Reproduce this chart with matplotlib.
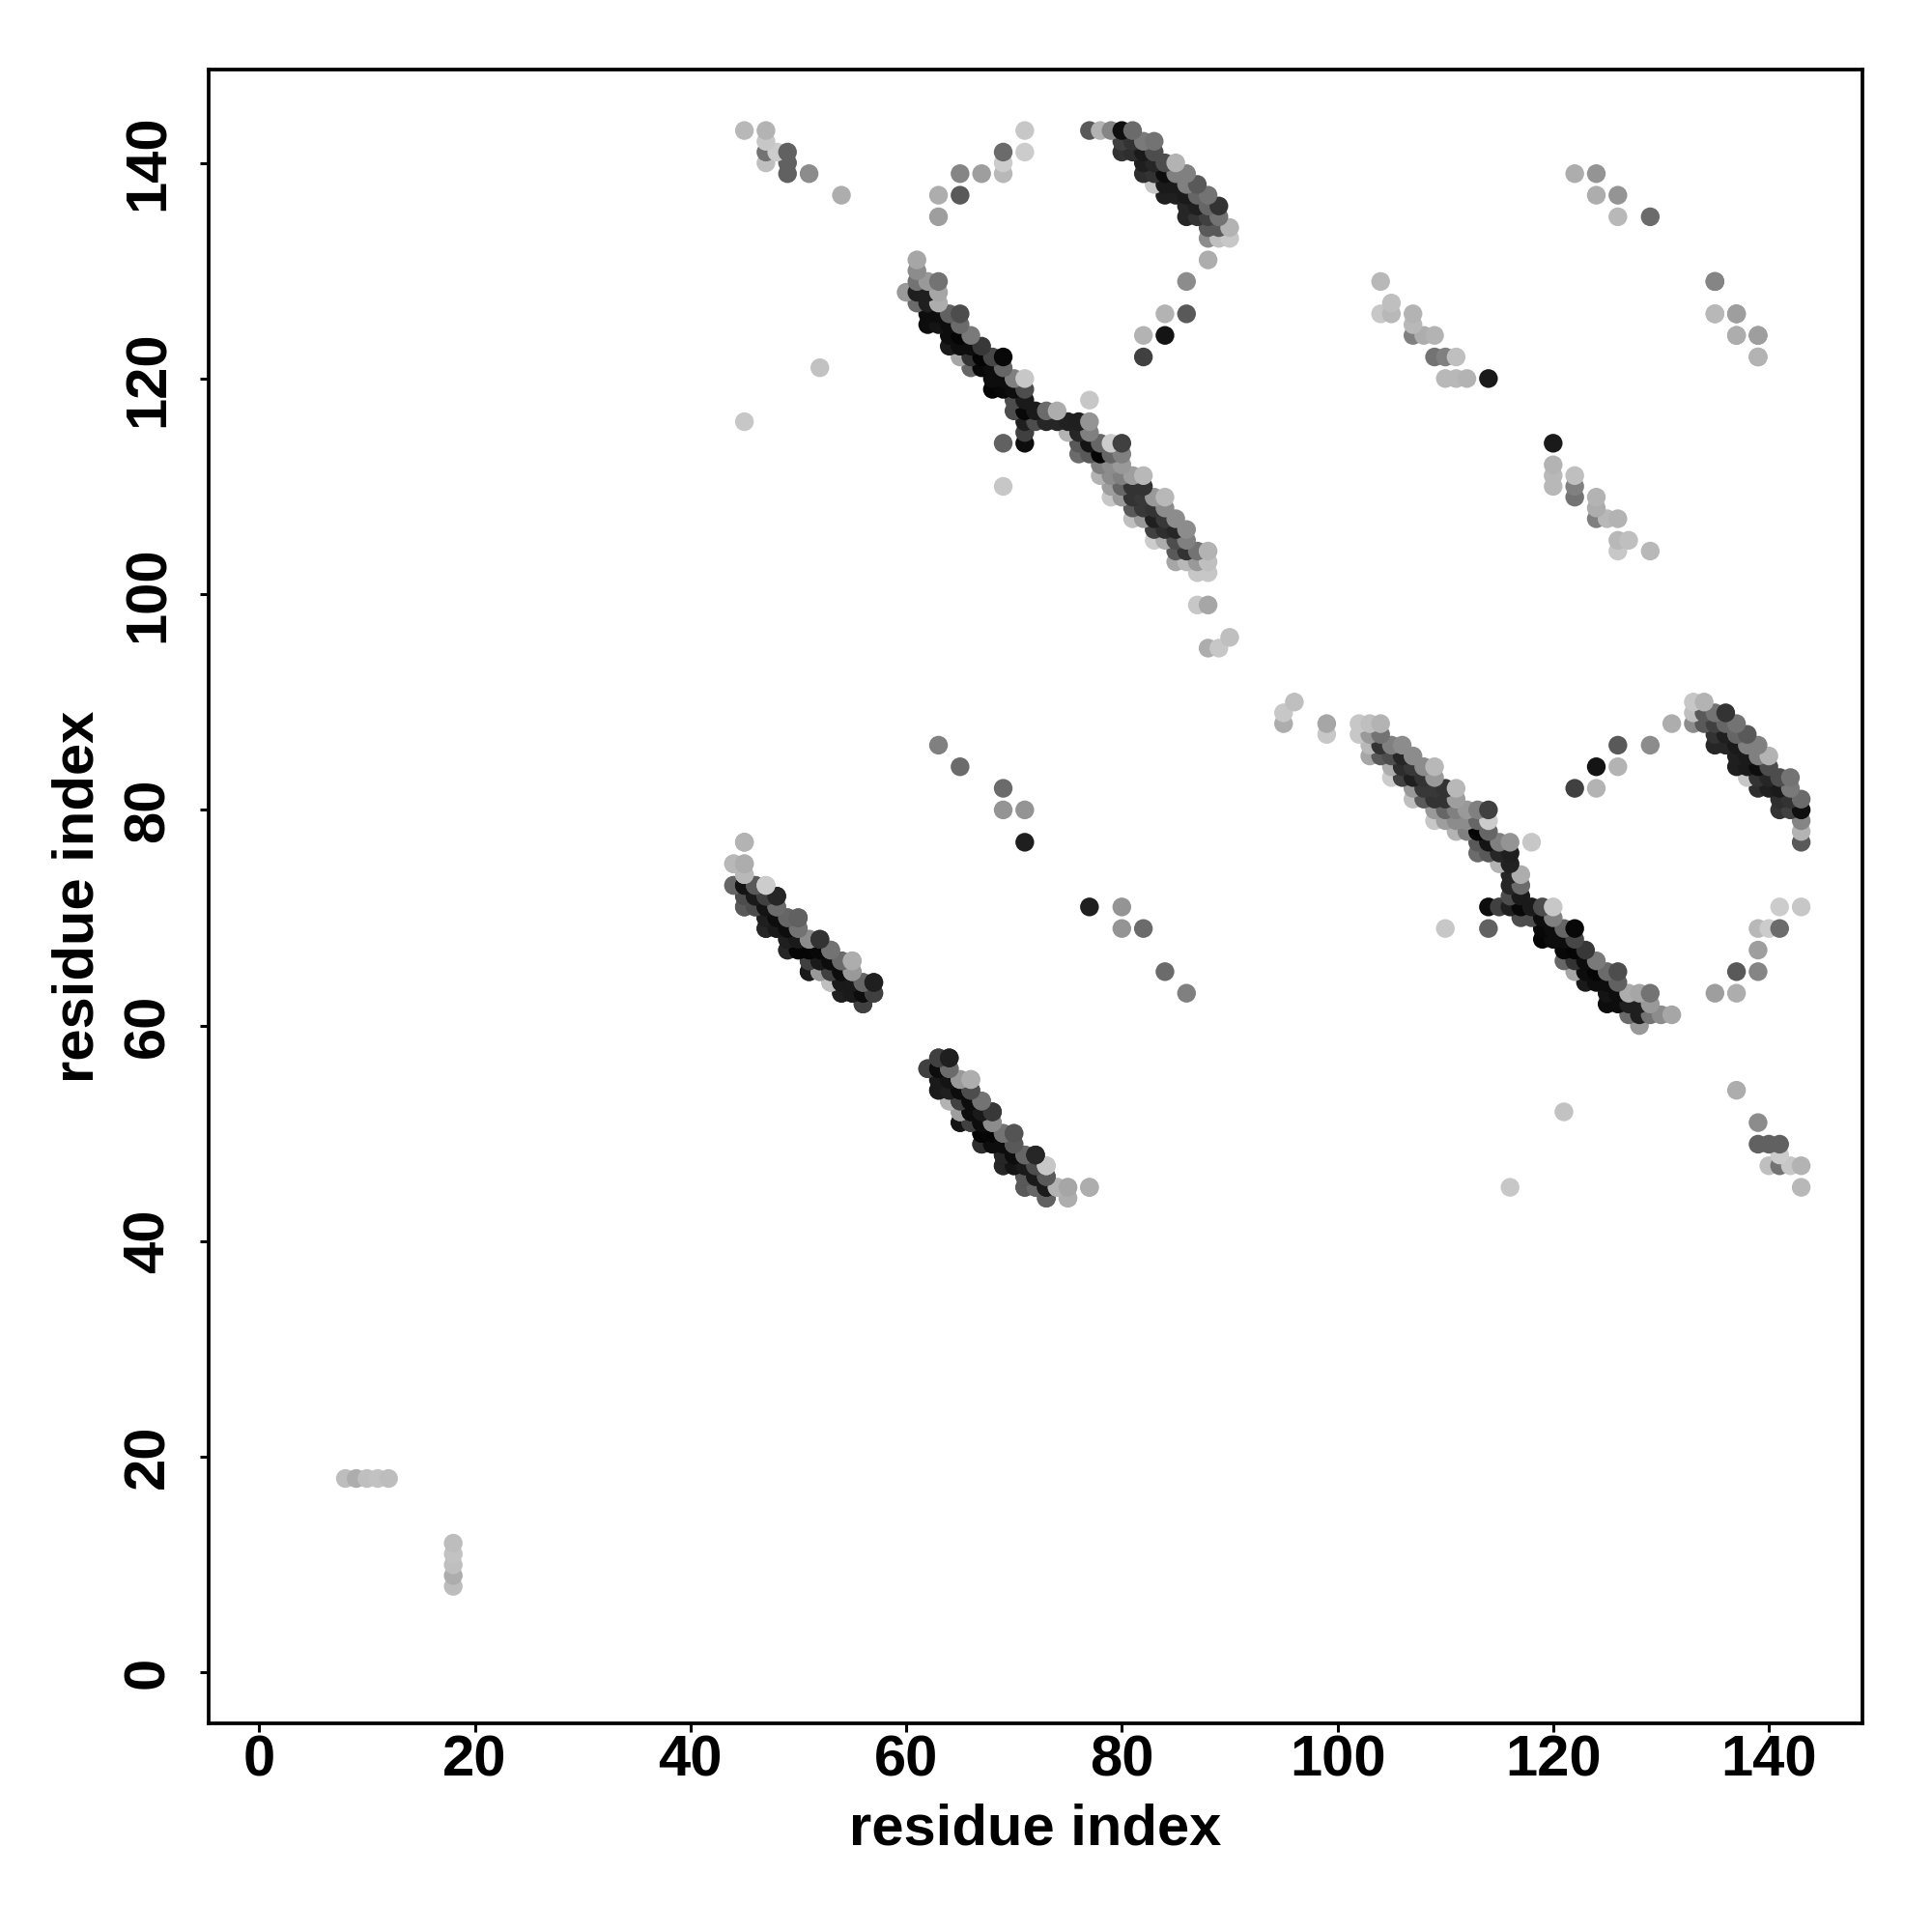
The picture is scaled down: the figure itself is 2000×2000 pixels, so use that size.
import matplotlib
matplotlib.use("Agg")
import numpy as np
import matplotlib.pyplot as plt

plt.rcParams['font.family'] = ['Liberation Sans', 'DejaVu Sans']

# contacts as (residue i, residue j, grey level), i < j, the map is symmetric
short_range = [(8,18,.74),(9,18,.68),(10,18,.75),(11,18,.76),(12,18,.74)]

stray = [(45,116,.78),(52,121,.76),(69,110,.78),(77,118,.78),(69,114,.38),(71,114,.05)]

far_corner = [(45,143,.72),(47,143,.70),(47,142,.78),(47,141,.45),(48,141,.80),(47,140,.75),
              (49,141,.38),(49,140,.38),(49,139,.38),(51,139,.55),(54,137,.68)]

arc_top = [(71,143,.78),(71,141,.80),(69,141,.42),(69,140,.80),(69,139,.72),(67,139,.62),
           (65,139,.52),(65,137,.35),(63,137,.68),(63,135,.62)]

hairpin_top = [(77,143,.35),(78,143,.70),(79,143,.52),(80,143,.06),(81,143,.42),
               (80,142,.25),(81,142,.20),(82,142,.48),(83,142,.45),
               (80,141,.20),(81,141,.18),(82,141,.10),(83,141,.30),
               (82,140,.12),(83,140,.15),(84,140,.30),(85,140,.70),
               (82,139,.18),(83,139,.20),(84,139,.05),(85,139,.50),(86,139,.50),
               (83,138,.78),(84,138,.10),(85,138,.10),(86,138,.50),(87,138,.35),
               (84,137,.12),(85,137,.12),(86,137,.10),(87,137,.40),(88,137,.45),
               (86,136,.15),(87,136,.12),(88,136,.40),(89,136,.20),
               (86,135,.15),(87,135,.20),(88,135,.25),(89,135,.45),
               (88,134,.35),(89,134,.35),(90,134,.70),
               (88,133,.55),(89,133,.75),(90,133,.78)]

arc_right = [(88,131,.68),(86,129,.55),(84,126,.70),(86,126,.35),(82,124,.70),(84,124,.08),(82,122,.25)]

strand_long_a = [(61,131,.65),(61,130,.55),(61,129,.45),(62,129,.60),(63,129,.45),
                 (60,128,.60),(61,128,.12),(62,128,.12),(63,128,.65),
                 (61,127,.42),(62,127,.12),(63,127,.68),
                 (62,126,.05),(63,126,.05),(64,126,.38),(65,126,.30),
                 (62,125,.05),(63,125,.08),(64,125,.05),(65,125,.42),
                 (64,124,.05),(65,124,.02),(66,124,.48),
                 (64,123,.10),(65,123,.05),(66,123,.05),(67,123,.22),
                 (65,122,.65),(66,122,.20),(67,122,.02),(68,122,.28),(69,122,.03),
                 (66,121,.40),(67,121,.03),(68,121,.05),(69,121,.40),
                 (68,120,.05),(69,120,.05),(70,120,.50),(71,120,.78),
                 (68,119,.02),(69,119,.03),(70,119,.05),(71,119,.30),
                 (70,118,.30),(71,118,.10),
                 (70,117,.30),(71,117,.03),(72,117,.10),(73,117,.42),(74,117,.68),
                 (71,116,.12),(72,116,.30),(73,116,.15),(74,116,.15),(75,116,.13),(76,116,.12),(77,116,.58),
                 (71,115,.25),(75,115,.70),(76,115,.15),(77,115,.50)]

strand_long_b = [(76,114,.35),(77,114,.08),(78,114,.40),(79,114,.80),(80,114,.25),
                 (76,113,.42),(77,113,.35),(78,113,.02),(79,113,.40),(80,113,.50),
                 (78,112,.50),(79,112,.55),(80,112,.60),
                 (78,111,.70),(79,111,.55),(80,111,.50),(81,111,.62),(82,111,.72),
                 (79,110,.62),(80,110,.40),(81,110,.20),(82,110,.20),
                 (79,109,.78),(80,109,.60),(81,109,.20),(82,109,.22),(83,109,.60),(84,109,.72),
                 (81,108,.35),(82,108,.22),(83,108,.20),(84,108,.55),
                 (81,107,.75),(82,107,.60),(83,107,.12),(84,107,.22),(85,107,.55),
                 (83,106,.25),(84,106,.18),(85,106,.15),(86,106,.55),
                 (83,105,.80),(84,105,.68),(85,105,.30),(86,105,.50),
                 (85,104,.35),(86,104,.20),(87,104,.45),(88,104,.70),
                 (85,103,.65),(86,103,.72),(87,103,.60),(88,103,.75),
                 (87,102,.78),(88,102,.78),(87,99,.78),(88,99,.65),
                 (90,96,.75),(88,95,.68),(89,95,.78)]

middle_steps = [(63,86,.50),(65,84,.42),(69,82,.42),(69,80,.58),(71,80,.58),(71,77,.12)]

strand_mid = [(45,77,.68),(44,75,.68),(45,75,.65),(45,74,.70),
              (44,73,.38),(45,73,.10),(46,73,.35),(47,73,.78),
              (45,72,.40),(46,72,.10),(47,72,.30),(48,72,.15),
              (45,71,.35),(46,71,.35),(47,71,.10),(48,71,.40),
              (47,70,.08),(48,70,.05),(49,70,.35),(50,70,.33),
              (47,69,.15),(48,69,.15),(49,69,.05),(50,69,.45),
              (49,68,.05),(50,68,.02),(51,68,.55),(52,68,.22),
              (49,67,.18),(50,67,.02),(51,67,.05),(52,67,.10),(53,67,.45),
              (51,66,.25),(52,66,.05),(53,66,.05),(54,66,.30),(55,66,.68),
              (51,65,.08),(52,65,.62),(53,65,.25),(54,65,.05),(55,65,.60),
              (53,64,.70),(54,64,.12),(55,64,.08),(56,64,.42),(57,64,.12),
              (54,63,.10),(55,63,.10),(56,63,.05),(57,63,.25),(56,62,.25)]

strand_low = [(63,57,.25),(64,57,.12),(62,56,.25),(63,56,.05),(64,56,.40),
              (63,55,.10),(64,55,.10),(65,55,.60),(66,55,.68),
              (63,54,.12),(64,54,.10),(65,54,.05),(66,54,.42),
              (64,53,.75),(65,53,.25),(66,53,.05),(67,53,.45),
              (65,52,.60),(66,52,.10),(67,52,.03),(68,52,.20),
              (65,51,.10),(66,51,.25),(67,51,.02),(68,51,.55),
              (67,50,.02),(68,50,.10),(69,50,.45),(70,50,.38),
              (67,49,.15),(68,49,.12),(69,49,.05),(70,49,.40),
              (69,48,.10),(70,48,.05),(71,48,.42),(72,48,.15),
              (69,47,.15),(70,47,.12),(71,47,.08),(72,47,.25),(73,47,.80),
              (71,46,.30),(72,46,.10),(73,46,.35),
              (71,45,.35),(72,45,.30),(73,45,.08),(74,45,.72),(75,45,.68),(77,45,.70),
              (73,44,.40),(75,44,.72)]

ladder_a = [(104,129,.72),(104,126,.78),(105,127,.75),(105,126,.72),(107,126,.70),(107,125,.72),
            (107,124,.50),(108,124,.68),(109,124,.70),(109,122,.45),(110,122,.50),(111,122,.75),
            (110,120,.72),(111,120,.72),(112,120,.70),(114,120,.10)]

ladder_b = [(122,139,.68),(124,139,.58),(124,137,.68),(126,137,.58),(126,135,.72),(129,135,.42)]

ladder_c = [(129,135,.52),(126,135,.72),(126,137,.62),(124,137,.68),(124,139,.62),(122,139,.70)]

x_ticks = [0, 20, 40, 60, 80, 100, 120, 140]
y_ticks = [0, 20, 40, 60, 80, 100, 120, 140]
axis_limits = (-4.68, 148.68)

contacts = np.array(short_range + stray + far_corner + arc_top + hairpin_top + arc_right
                    + strand_long_a + strand_long_b + middle_steps + strand_mid
                    + strand_low + ladder_a + ladder_b)
# ladder_c sits on the lower right side of the map only
ladder = np.array(ladder_c)

xs = np.concatenate([contacts[:, 0], contacts[:, 1], ladder[:, 1]])
ys = np.concatenate([contacts[:, 1], contacts[:, 0], ladder[:, 0]])
greys = np.concatenate([contacts[:, 2], contacts[:, 2], ladder[:, 2]])

# later rows and later columns lie on top
order = np.lexsort((xs, ys))

fig = plt.figure(figsize=(20, 20), dpi=100)
ax = fig.add_axes([216 / 2000, 1 - 1783.7 / 2000, 1712 / 2000, 1712 / 2000])
ax.scatter(xs[order], ys[order], c=[str(g) for g in greys[order]], s=195, linewidths=0, clip_on=False)

ax.set_xlim(*axis_limits)
ax.set_ylim(*axis_limits)
ax.set_xticks(x_ticks)
ax.set_yticks(y_ticks)
ax.tick_params(axis='both', length=6.5, width=2.2, labelsize=43)
ax.tick_params(axis='x', pad=2)
ax.tick_params(axis='y', pad=18.5)
for label in ax.get_xticklabels():
    label.set_fontweight('bold')
for label in ax.get_yticklabels():
    label.set_fontweight('bold')
    label.set_rotation(90)
    label.set_va('center')
for spine in ax.spines.values():
    spine.set_linewidth(2.7)

fig.text(1072 / 2000, 1 - 1894.5 / 2000, 'residue index', fontsize=43, fontweight='bold',
         ha='center', va='center')
fig.text(81.5 / 2000, 1 - 928 / 2000, 'residue index', fontsize=43, fontweight='bold',
         ha='center', va='center', rotation=90)

fig.savefig('out.png', dpi=100)
